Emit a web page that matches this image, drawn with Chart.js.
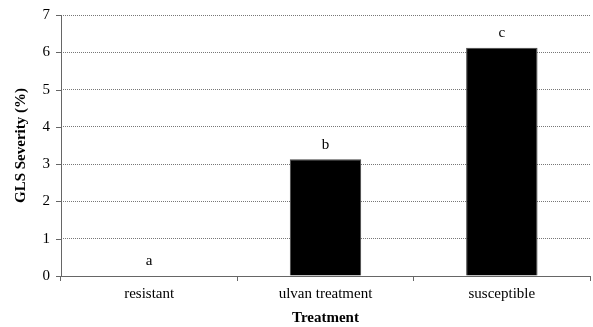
<!DOCTYPE html>
<html>
<head>
<meta charset="utf-8">
<script src="https://cdn.jsdelivr.net/npm/chart.js@4/dist/chart.umd.min.js"></script>
<style>
html,body{margin:0;padding:0;background:#fff;}
#wrap{width:593px;height:327px;position:relative;}
</style>
</head>
<body>
<div id="wrap"><canvas id="c"></canvas></div>
<script>
const categories = ["resistant", "ulvan treatment", "susceptible"];
const severity = [0, 3.13, 6.12];
const groupLetters = ["a", "b", "c"];
const yTicks = [0, 1, 2, 3, 4, 5, 6, 7];

const serif = '"Liberation Serif", "Times New Roman", serif';

const letterPlugin = {
  id: 'letters',
  afterDatasetsDraw(chart) {
    const ctx = chart.ctx;
    const meta = chart.getDatasetMeta(0);
    const y = chart.scales.y;
    ctx.save();
    ctx.font = '15px ' + serif;
    ctx.fillStyle = '#000';
    ctx.textAlign = 'center';
    ctx.textBaseline = 'bottom';
    meta.data.forEach((bar, i) => {
      const py = y.getPixelForValue(severity[i]);
      ctx.fillText(groupLetters[i], bar.x, py - 7);
    });
    ctx.restore();
  }
};

const axisLinePlugin = {
  id: 'axisLine',
  afterDraw(chart) {
    const { ctx, chartArea } = chart;
    ctx.save();
    ctx.strokeStyle = '#666';
    ctx.lineWidth = 1;
    ctx.setLineDash([]);
    ctx.beginPath();
    ctx.moveTo(chartArea.left + 0.5, chartArea.top);
    ctx.lineTo(chartArea.left + 0.5, chartArea.bottom);
    ctx.stroke();
    const y = chart.scales.y;
    yTicks.forEach(v => {
      const py = Math.round(y.getPixelForValue(v)) + 0.5;
      ctx.beginPath();
      ctx.moveTo(chartArea.left - 5, py);
      ctx.lineTo(chartArea.left, py);
      ctx.stroke();
    });
    ctx.restore();
  }
};

new Chart(document.getElementById('c'), {
  type: 'bar',
  data: {
    labels: categories,
    datasets: [{
      data: severity,
      backgroundColor: '#000',
      borderColor: '#444',
      borderWidth: 1,
      categoryPercentage: 1.0,
      barPercentage: 0.405
    }]
  },
  options: {
    responsive: true,
    maintainAspectRatio: false,
    animation: false,
    layout: { padding: { left: 8, top: 15, right: 3, bottom: 0 } },
    plugins: { legend: { display: false }, tooltip: { enabled: false } },
    scales: {
      x: {
        offset: true,
        grid: { offset: true, drawOnChartArea: false, drawTicks: true, tickLength: 5, color: '#666' },
        border: { color: '#666', width: 1 },
        ticks: { color: '#000', font: { family: serif, size: 15 }, padding: 4 },
        title: { display: true, text: 'Treatment', color: '#000', font: { family: serif, size: 15, weight: 'bold' }, padding: { top: 2, bottom: 0 } }
      },
      y: {
        min: 0, max: 7,
        afterBuildTicks(axis) { axis.ticks = yTicks.map(v => ({ value: v })); },
        afterFit(axis) { axis.width = 53; axis.paddingTop = 0; axis.paddingBottom = 0; },
        grid: { color: '#777', lineWidth: 1, drawTicks: false },
        border: { display: false, dash: [1, 1] },
        ticks: { color: '#000', font: { family: serif, size: 15 }, padding: 11 },
        title: { display: true, text: 'GLS Severity (%)', color: '#000', font: { family: serif, size: 15, weight: 'bold' }, padding: { top: 4, bottom: 0 } }
      }
    }
  },
  plugins: [letterPlugin, axisLinePlugin]
});
</script>
</body>
</html>
